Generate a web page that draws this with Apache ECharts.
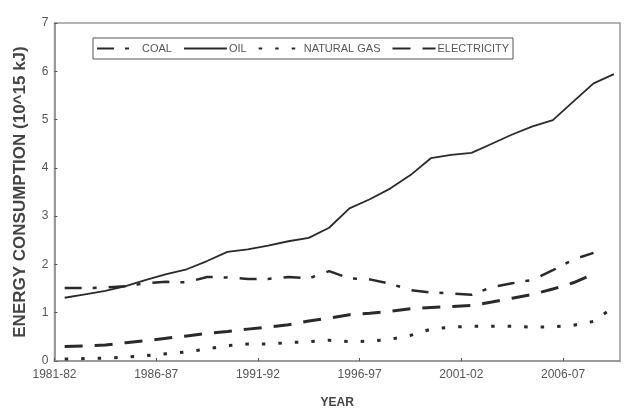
<!DOCTYPE html>
<html><head><meta charset="utf-8">
<script src="https://cdn.jsdelivr.net/npm/echarts@6/dist/echarts.min.js"></script>
<style>html,body{margin:0;padding:0;background:#fff}#c{width:624px;height:412px}</style>
</head><body><div id="c"></div>
<script>
// x positions: years after 1981 (data plotted mid-year, 1981-82 .. 2008-09)
const years = ['1981-82','1982-83','1983-84','1984-85','1985-86','1986-87','1987-88','1988-89','1989-90','1990-91','1991-92','1992-93','1993-94','1994-95','1995-96','1996-97','1997-98','1998-99','1999-00','2000-01','2001-02','2002-03','2003-04','2004-05','2005-06','2006-07','2007-08','2008-09'];
const coal = [1.51,1.51,1.52,1.55,1.61,1.64,1.63,1.74,1.73,1.70,1.70,1.74,1.71,1.86,1.71,1.69,1.60,1.47,1.42,1.40,1.37,1.53,1.61,1.68,1.88,2.10,2.24];
const oil = [1.31,1.38,1.45,1.55,1.68,1.80,1.90,2.07,2.26,2.31,2.39,2.48,2.55,2.76,3.16,3.35,3.57,3.85,4.20,4.27,4.31,4.50,4.69,4.86,4.99,5.37,5.75,5.94];
const gas = [0.04,0.05,0.06,0.08,0.11,0.15,0.19,0.25,0.32,0.35,0.35,0.38,0.40,0.43,0.40,0.41,0.45,0.53,0.66,0.70,0.72,0.72,0.72,0.70,0.71,0.74,0.82,1.12];
const electricity = [0.30,0.31,0.33,0.38,0.42,0.47,0.52,0.57,0.61,0.66,0.70,0.75,0.83,0.89,0.96,0.99,1.03,1.08,1.11,1.13,1.15,1.22,1.30,1.38,1.49,1.62,1.80];
const xTickLabels = ['1981-82','1986-87','1991-92','1996-97','2001-02','2006-07'];
const yTicks = [0,1,2,3,4,5,6,7];

const toPts = arr => arr.map((v,i)=>[i+0.5, v]);
const font = '"Liberation Sans",Arial,sans-serif';
const chart = echarts.init(document.getElementById('c'));
const lineCol = '#2a2a2a';
chart.setOption({
  animation:false,
  backgroundColor:'#fff',
  grid:{left:54.5, right:4, top:23, bottom:51, show:true, borderColor:'#9a9a9a', borderWidth:1.5, outerBoundsMode:'none', containLabel:false},
  legend:{
    left:93, top:38, padding:[5,4,5,3], itemGap:11, itemWidth:43, itemHeight:10,
    borderColor:'#555', borderWidth:1,
    itemStyle:{opacity:0},
    textStyle:{fontFamily:font, fontSize:11, color:'#555', padding:[0,0,0,-3]},
    data:['COAL','OIL','NATURAL GAS','ELECTRICITY']
  },
  xAxis:{
    type:'value', min:0, max:27.8, interval:5,
    name:'YEAR', nameLocation:'middle', nameGap:36,
    nameTextStyle:{fontFamily:font, fontWeight:'bold', fontSize:12, color:'#444'},
    axisLine:{lineStyle:{color:'#9a9a9a', width:2}},
    axisTick:{inside:true, length:3, lineStyle:{color:'#555'}},
    splitLine:{show:false},
    axisLabel:{fontFamily:font, fontSize:12, color:'#555', margin:8, showMaxLabel:false,
      formatter:v => { const k = Math.round(v/5); return (Math.abs(v-k*5)<1e-6 && xTickLabels[k]) ? xTickLabels[k] : ''; }}
  },
  yAxis:{
    type:'value', min:0, max:7, interval:1,
    name:'ENERGY CONSUMPTION (10^15 kJ)', nameLocation:'middle', nameGap:26,
    nameTextStyle:{fontFamily:font, fontWeight:'bold', fontSize:17, color:'#444'},
    axisLine:{show:true, lineStyle:{color:'#9a9a9a', width:2}},
    axisTick:{show:true, inside:true, length:3, lineStyle:{color:'#555'}},
    splitLine:{show:false},
    axisLabel:{fontFamily:font, fontSize:12, color:'#555', margin:6, formatter:v=>String(yTicks[v] ?? v)}
  },
  series:[
    {name:'COAL', type:'line', symbol:'none', data:toPts(coal), lineStyle:{color:lineCol, width:2.5, type:[17,11,4,12]}, itemStyle:{color:lineCol}},
    {name:'OIL', type:'line', symbol:'none', data:toPts(oil), lineStyle:{color:lineCol, width:1.8}, itemStyle:{color:lineCol}},
    {name:'NATURAL GAS', type:'line', symbol:'none', data:toPts(gas), lineStyle:{color:lineCol, width:3, type:[3.5,13]}, itemStyle:{color:lineCol}},
    {name:'ELECTRICITY', type:'line', symbol:'none', data:toPts(electricity), lineStyle:{color:lineCol, width:3, type:[18,12]}, itemStyle:{color:lineCol}}
  ]
});
</script></body></html>
